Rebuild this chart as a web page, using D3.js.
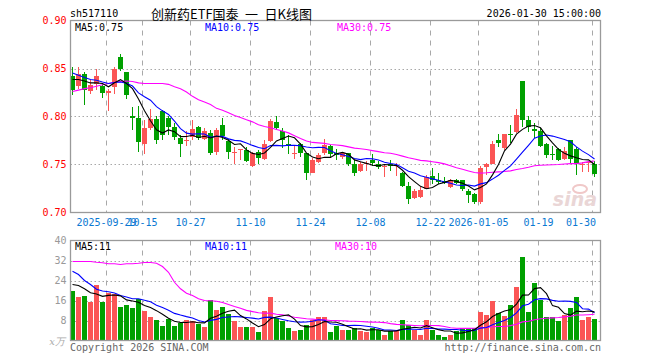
<!DOCTYPE html>
<html><head><meta charset="utf-8">
<script src="https://cdn.jsdelivr.net/npm/d3@7"></script>
<style>body{margin:0;background:#fff}svg{display:block}</style>
</head><body><svg id="c" width="660" height="360"></svg>
<script>
// ---- data ----
const dates = ["2025-09-19","2025-09-22","2025-09-23","2025-09-24","2025-09-25","2025-09-26","2025-09-29","2025-09-30","2025-10-09","2025-10-10",
"2025-10-13","2025-10-14","2025-10-15","2025-10-16","2025-10-17","2025-10-20","2025-10-21","2025-10-22","2025-10-23","2025-10-24",
"2025-10-27","2025-10-28","2025-10-29","2025-10-30","2025-10-31","2025-11-03","2025-11-04","2025-11-05","2025-11-06","2025-11-07",
"2025-11-10","2025-11-11","2025-11-12","2025-11-13","2025-11-14","2025-11-17","2025-11-18","2025-11-19","2025-11-20","2025-11-21",
"2025-11-24","2025-11-25","2025-11-26","2025-11-27","2025-11-28","2025-12-01","2025-12-02","2025-12-03","2025-12-04","2025-12-05",
"2025-12-08","2025-12-09","2025-12-10","2025-12-11","2025-12-12","2025-12-15","2025-12-16","2025-12-17","2025-12-18","2025-12-19",
"2025-12-22","2025-12-23","2025-12-24","2025-12-25","2025-12-26","2025-12-29","2025-12-30","2025-12-31","2026-01-05","2026-01-06",
"2026-01-07","2026-01-08","2026-01-09","2026-01-12","2026-01-13","2026-01-14","2026-01-15","2026-01-16","2026-01-19","2026-01-20",
"2026-01-21","2026-01-22","2026-01-23","2026-01-26","2026-01-27","2026-01-28","2026-01-29","2026-01-30"];
const open = [0.842,0.832,0.844,0.827,0.834,0.832,0.824,0.831,0.862,0.846,
0.801,0.798,0.771,0.788,0.797,0.806,0.798,0.789,0.778,0.774,
0.779,0.789,0.777,0.783,0.763,0.791,0.774,0.762,0.765,0.765,
0.748,0.763,0.756,0.774,0.794,0.785,0.771,0.761,0.771,0.762,
0.741,0.753,0.762,0.769,0.762,0.758,0.762,0.750,0.743,0.751,
0.755,0.750,0.747,0.750,0.748,0.741,0.728,0.715,0.716,0.725,
0.738,0.734,0.733,0.727,0.734,0.734,0.722,0.719,0.711,0.747,
0.751,0.775,0.767,0.782,0.784,0.837,0.796,0.787,0.785,0.771,
0.761,0.766,0.756,0.775,0.766,0.749,0.752,0.750];
const high = [0.852,0.852,0.846,0.838,0.850,0.834,0.829,0.852,0.865,0.846,
0.810,0.811,0.796,0.808,0.801,0.807,0.800,0.793,0.781,0.785,
0.796,0.790,0.788,0.786,0.788,0.798,0.777,0.768,0.766,0.768,
0.763,0.765,0.776,0.797,0.800,0.788,0.781,0.770,0.772,0.762,
0.757,0.762,0.777,0.770,0.766,0.763,0.762,0.755,0.753,0.754,
0.761,0.754,0.750,0.755,0.752,0.742,0.732,0.724,0.727,0.739,
0.746,0.741,0.737,0.735,0.735,0.734,0.724,0.720,0.748,0.752,
0.774,0.782,0.782,0.791,0.808,0.837,0.800,0.793,0.788,0.772,
0.769,0.767,0.768,0.776,0.768,0.753,0.754,0.754];
const low = [0.822,0.829,0.812,0.823,0.828,0.819,0.806,0.823,0.847,0.818,
0.786,0.763,0.761,0.786,0.771,0.775,0.781,0.775,0.758,0.769,
0.775,0.776,0.775,0.760,0.760,0.775,0.756,0.751,0.755,0.753,
0.747,0.750,0.755,0.773,0.786,0.767,0.761,0.756,0.758,0.734,
0.741,0.752,0.760,0.757,0.755,0.756,0.748,0.738,0.742,0.743,
0.748,0.745,0.737,0.743,0.738,0.727,0.709,0.714,0.715,0.724,
0.730,0.730,0.730,0.726,0.730,0.722,0.710,0.709,0.709,0.739,
0.750,0.768,0.765,0.772,0.783,0.789,0.784,0.778,0.768,0.757,
0.755,0.754,0.755,0.750,0.739,0.742,0.742,0.737];
const close = [0.828,0.844,0.828,0.833,0.842,0.825,0.827,0.849,0.849,0.822,
0.798,0.773,0.788,0.797,0.775,0.781,0.789,0.779,0.771,0.776,
0.787,0.778,0.785,0.762,0.786,0.780,0.763,0.763,0.766,0.754,
0.762,0.757,0.771,0.795,0.788,0.775,0.769,0.762,0.762,0.741,
0.755,0.760,0.770,0.761,0.760,0.762,0.750,0.741,0.751,0.752,
0.752,0.747,0.748,0.748,0.749,0.728,0.714,0.722,0.723,0.737,
0.734,0.732,0.731,0.734,0.731,0.724,0.718,0.711,0.746,0.750,
0.771,0.772,0.782,0.781,0.802,0.796,0.789,0.785,0.769,0.760,
0.760,0.755,0.764,0.756,0.750,0.751,0.753,0.740];
const volume = [20,17.3,18,15.3,22.4,15.3,19.2,18.7,13.6,14.4,
13.1,16.7,12,9.6,8.3,6,8.7,6,6.9,8.3,
7.7,6.7,5.6,16.3,12.3,13.6,10.7,7.7,5.6,5.6,
5.3,3.3,12,17.3,9.1,7.7,5.1,3.7,4.3,6.4,
8.3,9.3,9.6,3.3,6,4.3,4.3,5.1,3.7,3.3,
5.1,4.3,2.4,3.7,3.7,8.3,6.4,4.3,2.4,8.3,
4.3,2.4,1.6,2.4,3.7,5.1,5.1,5.1,11.6,10.4,
15.7,11.2,10,14.4,21.6,33.6,11.3,22.9,16.3,9.6,
9.6,8,10.4,13.1,17.6,8.3,9.6,8.7];
const ma5Lead = [0.8385,0.8385,0.837,0.835];
const ma10Lead = [0.8454,0.843,0.8406,0.8385,0.8378,0.836,0.8344,0.8354,0.836];
const ma30Lead = [0.826,0.8275,0.829,0.830,0.8316,0.833,0.8344,0.8357,0.8365,0.837,0.8365,0.835,0.8344,0.8344,0.8344,0.8344,0.8335,0.831,0.829,0.8255,0.821,0.8175,0.815,0.8125,0.8085,0.8065,0.804,0.801,0.799];
const volMa5Lead = [22.4,22,20.7,19.1];
const volMa10Lead = [27.7,26.4,24,22.4,20.5,19.8,19.5,19,18];
const volMa30Lead = [31.6,31.6,31.6,31.6,31.3,31.1,30.7,30.7,30.4,30.7,30.7,30.9,31.2,31.2,30.9,29.6,27.3,23.3,20.7,18.9,18,16.7,16,15.9,15.7,15.2,14.4,13.6,12.9];

const tickDates = ["2025-09-29","2025-10-15","2025-10-27","2025-11-10","2025-11-24","2025-12-08","2025-12-22","2026-01-05","2026-01-19","2026-01-30"];
const tickLabels = ["2025-09-29","10-15","10-27","11-10","11-24","12-08","12-22","2026-01-05","01-19","01-30"];
const priceTicks = [0.90,0.85,0.80,0.75,0.70];
const priceTickLabels = ["0.90","0.85","0.80","0.75","0.70"];
const priceGrid = [0.85,0.80,0.75];
const volTicks = [40,32,24,16,8];
const volTickLabels = ["40","32","24","16","8"];
const volGrid = [32,24,16,8];
const code = "sh517110";
const titleText = "创新药ETF国泰\u2002一\u2002日K线图";
const timeText = "2026-01-30 15:00:00";
const unitText = "x万";
const copyText = "Copyright 2026 SINA.COM";
const urlText = "http://finance.sina.com.cn";

// ---- drawing ----
const svg = d3.select("#c");
const MONO = "'DejaVu Sans Mono', monospace";
const RED = "#fb5555", GREEN = "#00a000";
const L = 70.5, R = 600.5, PT = 20.5, PB = 212.5, VT = 240.5, VB = 340.5;
const n = close.length;
const idx = d3.range(n);
const x = d3.scaleBand().domain(idx).range([69, 69 + 6 * n]).padding(0);
const yP = d3.scaleLinear().domain([0.70, 0.90]).range([PB, PT]);
const yV = d3.scaleLinear().domain([0, 40]).range([VB, VT]);

function ma(arr, w, lead) {
  return arr.map((_, i) => i < lead.length ? lead[i] : d3.mean(arr.slice(i - w + 1, i + 1)));
}
const pm5 = ma(close, 5, ma5Lead), pm10 = ma(close, 10, ma10Lead), pm30 = ma(close, 30, ma30Lead);
const vm5 = ma(volume, 5, volMa5Lead), vm10 = ma(volume, 10, volMa10Lead), vm30 = ma(volume, 30, volMa30Lead);

// grid
const gx = tickDates.map(d => x(dates.indexOf(d)) + 1.5);
const grid = svg.append("g").attr("stroke", "#a8a8a8").attr("stroke-width", 1).attr("fill", "none");
gx.forEach(v => {
  grid.append("line").attr("x1", v).attr("x2", v).attr("y1", PT).attr("y2", PB).attr("stroke-dasharray", "5,5");
  grid.append("line").attr("x1", v).attr("x2", v).attr("y1", VT).attr("y2", VB).attr("stroke-dasharray", "5,5");
});
priceGrid.forEach(p => grid.append("line").attr("x1", L).attr("x2", R).attr("y1", Math.round(yP(p)) + 0.5).attr("y2", Math.round(yP(p)) + 0.5).attr("stroke-dasharray", "1.5,2.5"));
volGrid.forEach(v => grid.append("line").attr("x1", L).attr("x2", R).attr("y1", Math.round(yV(v)) + 0.5).attr("y2", Math.round(yV(v)) + 0.5).attr("stroke-dasharray", "1.5,2.5"));

// watermark
svg.append("text").attr("x", 597).attr("y", 206).attr("text-anchor", "end")
  .attr("font-family", "'DejaVu Sans', sans-serif").attr("font-style", "italic").attr("font-weight", "bold")
  .attr("font-size", 19).attr("fill", "#ead6d6").text("sina");
svg.append("ellipse").attr("cx", 580).attr("cy", 189).attr("rx", 7).attr("ry", 4).attr("fill", "none").attr("stroke", "#f0c8c8").attr("stroke-width", 2);

// candles
const cg = svg.append("g");
idx.forEach(i => {
  const up = close[i] >= open[i];
  const col = up ? RED : GREEN;
  const yh = Math.round(yP(high[i])), yl = Math.round(yP(low[i]));
  cg.append("rect").attr("x", x(i) + 3).attr("width", 1).attr("y", yh).attr("height", Math.max(1, yl - yh)).attr("fill", col);
  const yt = Math.round(yP(Math.max(open[i], close[i]))), yb = Math.round(yP(Math.min(open[i], close[i])));
  cg.append("rect").attr("x", x(i) + 1).attr("width", 5).attr("y", yt).attr("height", Math.max(1, yb - yt)).attr("fill", col);
  const vy = Math.round(yV(volume[i]));
  cg.append("rect").attr("x", x(i) + 1).attr("width", 5).attr("y", vy).attr("height", Math.round(VB) - vy).attr("fill", col);
});

// MA lines
const lineP = d3.line().x((d, i) => x(i) + 3.5).y(d => yP(d));
const lineV = d3.line().x((d, i) => x(i) + 3.5).y(d => yV(d));
[[pm30, "#ff00ff"], [pm10, "#0000ff"], [pm5, "#000000"]].forEach(([a, c]) =>
  svg.append("path").attr("d", lineP(a)).attr("fill", "none").attr("stroke", c).attr("stroke-width", 1.1));
[[vm30, "#ff00ff"], [vm10, "#0000ff"], [vm5, "#000000"]].forEach(([a, c]) =>
  svg.append("path").attr("d", lineV(a)).attr("fill", "none").attr("stroke", c).attr("stroke-width", 1.1));

// frames
svg.append("rect").attr("x", L).attr("y", PT).attr("width", R - L).attr("height", PB - PT).attr("fill", "none").attr("stroke", "#9a9a9a").attr("stroke-width", 1.3);
svg.append("rect").attr("x", L).attr("y", VT).attr("width", R - L).attr("height", VB - VT).attr("fill", "none").attr("stroke", "#9a9a9a").attr("stroke-width", 1.3);

// y axes
const ay = svg.append("g").attr("transform", `translate(${L},0)`)
  .call(d3.axisLeft(yP).tickValues(priceTicks).tickFormat((d, i) => priceTickLabels[i]).tickSize(0).tickPadding(4));
ay.select(".domain").remove();
ay.selectAll("text").attr("font-family", MONO).attr("font-size", 10).attr("fill", "#ff0000");
const av = svg.append("g").attr("transform", `translate(${L},0)`)
  .call(d3.axisLeft(yV).tickValues(volTicks).tickFormat((d, i) => volTickLabels[i]).tickSize(0).tickPadding(4));
av.select(".domain").remove();
av.selectAll("text").attr("font-family", MONO).attr("font-size", 10).attr("fill", "#999");

// x labels
const xl = svg.append("g").attr("font-family", MONO).attr("font-size", 10).attr("fill", "#0a78d2");
tickLabels.forEach((t, k) => {
  const tx = xl.append("text").attr("x", gx[k]).attr("y", 222).attr("text-anchor", "middle").attr("dominant-baseline", "central").text(t);
  const w = tx.node().getComputedTextLength();
  if (gx[k] + w / 2 > 596) tx.attr("x", 596 - w / 2);
});

// header
const txt = (s, xx, yy, opt = {}) => svg.append("text").attr("x", xx).attr("y", yy).attr("dominant-baseline", "central")
  .attr("font-family", opt.ff || MONO).attr("font-size", opt.fs || 10).attr("fill", opt.fill || "#000")
  .attr("text-anchor", opt.anchor || "start").attr("font-style", opt.style || null).text(s);
txt(code, 70, 13);
txt(titleText, 231.5, 13, { ff: "'Noto Sans CJK SC', sans-serif", fs: 13, anchor: "middle" });
txt(timeText, 601, 13, { anchor: "end" });

const fmt = v => (Math.floor(v * 100 + 0.01) / 100).toFixed(2);
const fmtV = v => String(Math.floor(v + 0.001));
txt("MA5:" + fmt(pm5[n - 1]), 75, 27);
txt("MA10:" + fmt(pm10[n - 1]), 205, 27, { fill: "#0000ff" });
txt("MA30:" + fmt(pm30[n - 1]), 337, 27, { fill: "#ff00ff" });
txt("MA5:" + fmtV(vm5[n - 1]), 75, 246.5);
txt("MA10:" + fmtV(vm10[n - 1]), 205, 246.5, { fill: "#0000ff" });
txt("MA30:" + fmtV(vm30[n - 1]), 335, 246.5, { fill: "#ff00ff" });

txt(unitText, 65, 341, { ff: "'DejaVu Serif', serif", fs: 10, fill: "#aaa", anchor: "end", style: "italic" });
txt(copyText, 70, 347, { fill: "#666" });
txt(urlText, 601, 347, { fill: "#666", anchor: "end" });
</script></body></html>
